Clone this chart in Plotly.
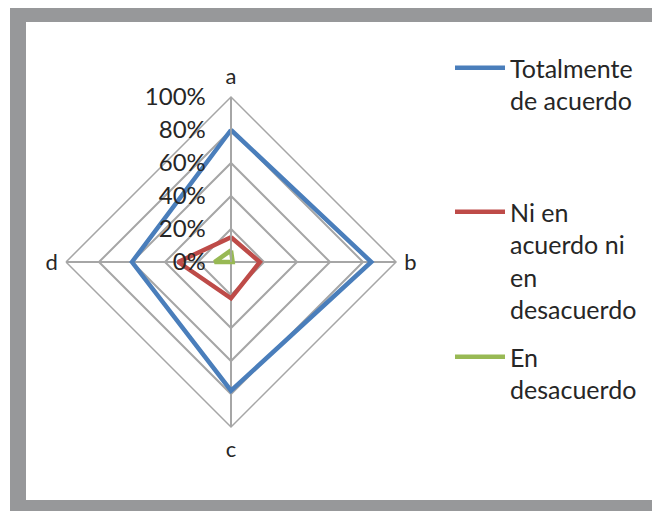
import plotly.graph_objects as go

# categories (spokes) and series values
categories = ['a', 'b', 'c', 'd']
totalmente = [0.80, 0.85, 0.78, 0.60]
ni_ni = [0.15, 0.175, 0.22, 0.32]
desacuerdo = [0.07, 0.01, 0.0, 0.10]

series_names = ['Totalmente<br>de acuerdo', 'Ni en<br>acuerdo ni<br>en<br>desacuerdo', 'En<br>desacuerdo']
series_colors = ['#4A7EBB', '#BE4B48', '#98B954']

# the page body has an 8px margin, so the figure starts at (8, 8)
OFF = 8
W, H = 660 - OFF, 511 - OFF
FONT = 'Lato'
TXT = '#262626'

fig = go.Figure()
for vals, name, col, leg in zip([totalmente, ni_ni, desacuerdo], series_names, series_colors,
                                ['legend', 'legend2', 'legend3']):
    # close the polygon
    fig.add_trace(go.Scatterpolar(r=vals + vals[:1], theta=categories + categories[:1],
                                  mode='lines', name=name, legend=leg,
                                  line=dict(color=col, width=4.5)))

# page pixel -> paper fraction
def px_x(x):
    return (x - OFF) / W

def px_y(y):
    return 1 - (y - OFF) / H

# centre ~ (231, 262), radius ~165 px (page coords)
fig.update_layout(
    width=W, height=H,
    margin=dict(l=0, r=0, t=0, b=0),
    paper_bgcolor='white',
    font=dict(family=FONT, color=TXT),
    polar=dict(
        domain=dict(x=[px_x(66), px_x(396)], y=[px_y(427), px_y(97)]),
        bgcolor='white',
        gridshape='linear',
        angularaxis=dict(rotation=90, direction='clockwise', showline=True,
                         linecolor='#A6A6A6', linewidth=1.5, gridcolor='#A6A6A6', gridwidth=1.5,
                         ticks='outside', ticklen=3, tickcolor='rgba(0,0,0,0)',
                         tickfont=dict(size=22, family=FONT, color=TXT)),
        radialaxis=dict(range=[0, 1], dtick=0.2, tickformat='.0%', angle=90, tickangle=90,
                        side='counterclockwise',
                        showline=True, linecolor='#A6A6A6', linewidth=1.5,
                        gridcolor='#A6A6A6', gridwidth=1.5,
                        ticks='outside', ticklen=16, tickcolor='rgba(0,0,0,0)',
                        tickfont=dict(size=24, family=FONT, color=TXT)),
    ),
    showlegend=True,
    shapes=[dict(type='rect', xref='paper', yref='paper',
                 x0=px_x(18), x1=px_x(666), y0=px_y(508), y1=px_y(14),
                 line=dict(color='#97989A', width=16), layer='below')],
)

legend_common = dict(xanchor='left', yanchor='top', valign='top', bgcolor='rgba(0,0,0,0)',
                     font=dict(size=25, family=FONT, color=TXT), itemwidth=50)
fig.update_layout(
    legend=dict(x=px_x(450), y=px_y(45), **legend_common),
    legend2=dict(x=px_x(450), y=px_y(189), **legend_common),
    legend3=dict(x=px_x(450), y=px_y(334), **legend_common),
)

fig.write_html('out.html')
